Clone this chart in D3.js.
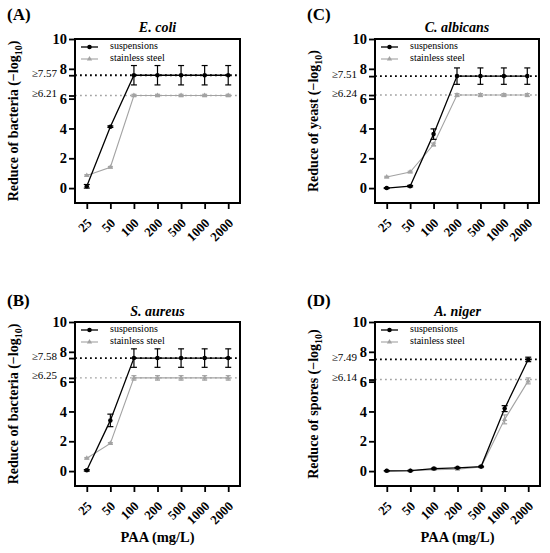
<!DOCTYPE html>
<html><head><meta charset="utf-8">
<script src="https://cdn.jsdelivr.net/npm/d3@7"></script>
<style>
body{margin:0;background:#fff;}
svg text{font-family:"Liberation Serif","Times New Roman","DejaVu Serif",serif !important;}
</style></head>
<body><svg id="c" width="550" height="553" font-family="Liberation Serif, Times New Roman, DejaVu Serif, serif"></svg>
<script>
const doses = ["25","50","100","200","500","1000","2000"];
const yTicks = [0,2,4,6,8,10];
const seriesNames = ["suspensions","stainless steel"];

const ecoliSusp = [0.12, 4.12, 7.57, 7.57, 7.57, 7.57, 7.57];
const ecoliSuspErr = [0.12, 0.05, 0.65, 0.65, 0.65, 0.65, 0.65];
const ecoliSteel = [0.85, 1.40, 6.21, 6.21, 6.21, 6.21, 6.21];
const ecoliSteelErr = [0.05, 0.05, 0.08, 0.08, 0.08, 0.08, 0.08];
const ecoliThr = [7.57, 6.21];

const albSusp = [0.0, 0.13, 3.62, 7.51, 7.51, 7.51, 7.51];
const albSuspErr = [0.03, 0.05, 0.35, 0.55, 0.55, 0.55, 0.55];
const albSteel = [0.74, 1.08, 2.92, 6.24, 6.24, 6.24, 6.24];
const albSteelErr = [0.05, 0.05, 0.1, 0.1, 0.1, 0.1, 0.1];
const albThr = [7.51, 6.24];

const aurSusp = [0.05, 3.40, 7.58, 7.58, 7.58, 7.58, 7.58];
const aurSuspErr = [0.05, 0.42, 0.62, 0.62, 0.62, 0.62, 0.62];
const aurSteel = [0.86, 1.86, 6.25, 6.25, 6.25, 6.25, 6.25];
const aurSteelErr = [0.05, 0.05, 0.15, 0.15, 0.15, 0.15, 0.15];
const aurThr = [7.58, 6.25];

const nigSusp = [0.02, 0.03, 0.17, 0.22, 0.30, 4.19, 7.49];
const nigSuspErr = [0.02, 0.02, 0.03, 0.03, 0.03, 0.2, 0.15];
const nigSteel = [0.0, 0.02, 0.10, 0.12, 0.28, 3.47, 6.05];
const nigSteelErr = [0.0, 0.0, 0.02, 0.02, 0.02, 0.3, 0.2];
const nigThr = [7.49, 6.14];

const panels = [
  {label:"(A)", title:"E. coli", ylab:"bacteria", x0:75, x1:240, y0:39, y1:203, lblY:20, titleY:32,
   s:ecoliSusp, se:ecoliSuspErr, t:ecoliSteel, te:ecoliSteelErr, thr:ecoliThr, xlab:false},
  {label:"(C)", title:"C. albicans", ylab:"yeast", x0:375, x1:539, y0:39, y1:203, lblY:20, titleY:32,
   s:albSusp, se:albSuspErr, t:albSteel, te:albSteelErr, thr:albThr, xlab:false},
  {label:"(B)", title:"S. aureus", ylab:"bacteria", x0:75, x1:240, y0:322, y1:486, lblY:306, titleY:316,
   s:aurSusp, se:aurSuspErr, t:aurSteel, te:aurSteelErr, thr:aurThr, xlab:true},
  {label:"(D)", title:"A. niger", ylab:"spores", x0:375, x1:540, y0:322, y1:486, lblY:306, titleY:316,
   s:nigSusp, se:nigSuspErr, t:nigSteel, te:nigSteelErr, thr:nigThr, xlab:true}
];

const FONT = "Liberation Serif, Times New Roman, DejaVu Serif, serif";
const svg = d3.select("#c");
const BLACK = "#000", GRAY = "#a3a3a3";

panels.forEach(p => {
  const g = svg.append("g").attr("font-family", FONT);
  const x = d3.scalePoint().domain(doses).range([p.x0, p.x1]).padding(0.5);
  const y = d3.scaleLinear().domain([-1, 10]).range([p.y1, p.y0]);

  g.append("text").attr("x", p.x0 - 68).attr("y", p.lblY)
    .attr("font-size", 17).attr("font-weight", "bold").text(p.label);
  g.append("text").attr("x", (p.x0 + p.x1) / 2).attr("y", p.titleY)
    .attr("text-anchor", "middle").attr("font-size", 14).attr("font-weight", "bold")
    .attr("font-style", "italic").text(p.title);

  const ya = g.append("g").attr("transform", `translate(${p.x0},0)`)
    .call(d3.axisLeft(y).tickValues(yTicks).tickSize(6).tickPadding(2).tickFormat(d3.format("d")));
  ya.attr("font-family", FONT);
  ya.select(".domain").remove();
  ya.selectAll(".tick line").attr("stroke", BLACK).attr("stroke-width", 1.8);
  ya.selectAll(".tick text").attr("font-size", 14.5).attr("font-weight", "bold").attr("fill", BLACK);
  const ta = g.append("g").attr("transform", `translate(${p.x0},0)`)
    .call(d3.axisLeft(y).tickValues(p.thr).tickSize(6).tickFormat(""));
  ta.select(".domain").remove();
  ta.selectAll(".tick line").attr("stroke", BLACK).attr("stroke-width", 1.8);
  p.thr.forEach(v => {
    g.append("text").attr("x", p.x0 - 18).attr("y", y(v) - 1)
      .attr("dominant-baseline", "middle").attr("text-anchor", "end")
      .attr("font-size", 11).text("\u2265" + v.toFixed(2));
  });

  const xa = g.append("g").attr("transform", `translate(0,${p.y1})`)
    .call(d3.axisBottom(x).tickSize(6).tickFormat(""));
  xa.select(".domain").remove();
  xa.selectAll(".tick line").attr("stroke", BLACK).attr("stroke-width", 1.8);
  g.selectAll(".xl").data(doses).enter().append("text")
    .attr("transform", d => `translate(${x(d) - 1},${p.y1 + 14}) rotate(-45)`)
    .attr("text-anchor", "end").attr("dominant-baseline", "hanging")
    .attr("font-size", 13).attr("font-weight", "bold").text(d => d);

  const yt = g.append("text")
    .attr("transform", `translate(${p.x0 - 57},${(p.y0 + p.y1) / 2}) rotate(-90)`)
    .attr("text-anchor", "middle").attr("font-size", 14).attr("font-weight", "bold");
  yt.append("tspan").text(`Reduce of ${p.ylab} (\u2212log`);
  yt.append("tspan").attr("font-size", 10).attr("dy", 4).text("10");
  yt.append("tspan").attr("dy", -4).text(")");

  if (p.xlab) {
    g.append("text").attr("x", (p.x0 + p.x1) / 2).attr("y", 542)
      .attr("text-anchor", "middle").attr("font-size", 14.5).attr("font-weight", "bold")
      .text("PAA (mg/L)");
  }

  const thrCols = [BLACK, GRAY];
  p.thr.forEach((v, i) => {
    g.append("line").attr("x1", p.x0).attr("x2", p.x1).attr("y1", y(v)).attr("y2", y(v))
      .attr("stroke", thrCols[i]).attr("stroke-width", i === 0 ? 1.8 : 1.4)
      .attr("stroke-dasharray", "1.8,3.2");
  });

  const line = d3.line().x((d, i) => x(doses[i])).y(d => y(d));
  const drawSeries = (vals, errs, col, w, cap, marker) => {
    g.append("path").datum(vals).attr("d", line).attr("fill", "none")
      .attr("stroke", col).attr("stroke-width", w);
    vals.forEach((v, i) => {
      const cx = x(doses[i]);
      if (errs[i] > 0) {
        const yt = y(v + errs[i]), yb = y(v - errs[i]);
        g.append("line").attr("x1", cx).attr("x2", cx).attr("y1", yt).attr("y2", yb)
          .attr("stroke", col).attr("stroke-width", 1.2);
        [yt, yb].forEach(yy => g.append("line").attr("x1", cx - cap).attr("x2", cx + cap)
          .attr("y1", yy).attr("y2", yy).attr("stroke", col).attr("stroke-width", 1.2));
      }
      g.append("path").attr("transform", `translate(${cx},${y(v)})`)
        .attr("d", marker).attr("fill", col);
    });
  };
  drawSeries(p.t, p.te, GRAY, 1.1, 2.5, d3.symbol(d3.symbolTriangle, 12)());
  drawSeries(p.s, p.se, BLACK, 1.3, 3, d3.symbol(d3.symbolCircle, 16)());

  const legY = [p.y0 + 8, p.y0 + 20];
  [[BLACK, 1.3, d3.symbol(d3.symbolCircle, 16)()], [GRAY, 1.1, d3.symbol(d3.symbolTriangle, 12)()]]
    .forEach((s, i) => {
      g.append("line").attr("x1", p.x0 + 6).attr("x2", p.x0 + 23).attr("y1", legY[i]).attr("y2", legY[i])
        .attr("stroke", s[0]).attr("stroke-width", s[1]);
      g.append("path").attr("transform", `translate(${p.x0 + 14.5},${legY[i]})`).attr("d", s[2]).attr("fill", s[0]);
      g.append("text").attr("x", p.x0 + 35).attr("y", legY[i]).attr("dominant-baseline", "middle")
        .attr("font-size", 10).text(seriesNames[i]);
    });

  g.append("rect").attr("x", p.x0).attr("y", p.y0).attr("width", p.x1 - p.x0).attr("height", p.y1 - p.y0)
    .attr("fill", "none").attr("stroke", BLACK).attr("stroke-width", 2);
});
</script></body></html>
